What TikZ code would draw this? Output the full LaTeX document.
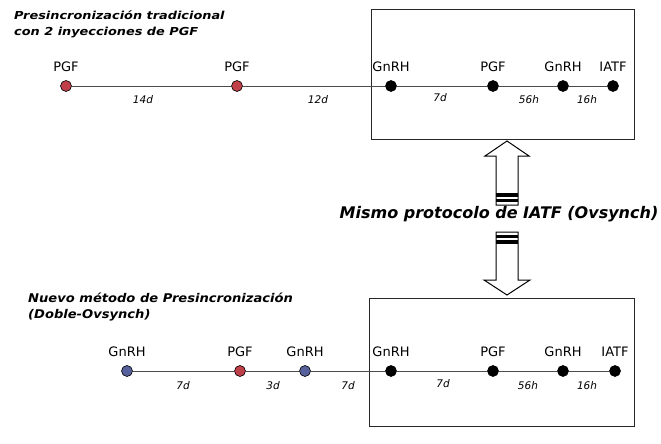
\documentclass[tikz,border=0pt]{standalone}
\usepackage{fontspec}
\setmainfont{DejaVu Sans}
\newfontfamily\widetopfont[FakeStretch=1.17]{DejaVu Sans}
\newfontfamily\widebotfont[FakeStretch=1.09]{DejaVu Sans}
\definecolor{pgfred}{HTML}{C0404A}
\definecolor{gnblue}{HTML}{56609A}
\begin{document}
\begin{tikzpicture}[x=1pt,y=-1pt,
  dot/.style={circle,draw=black,line width=0.6pt,inner sep=0pt,minimum size=11pt},
  lbl/.style={font=\fontsize{13}{14}\selectfont,inner sep=0pt,label distance=8.5pt},
  ivl/.style={font=\fontsize{10.5}{11}\selectfont\itshape,inner sep=0pt},
  ttl/.style={align=left,anchor=north west,inner sep=0pt},
  tl/.style={draw=black!70,line width=0.7pt},
  boxst/.style={draw=black!85,line width=1pt},
  arrowst/.style={draw=black,line width=1pt,fill=white}]
\useasboundingbox[fill=white] (0,0) rectangle (661,444);
% boxes
\draw[boxst] (371,10) rectangle (634,139);
\draw[boxst] (369,298) rectangle (634,426);
% titles
\node[ttl,font=\widetopfont\fontsize{11}{16}\selectfont\bfseries\itshape] (t1) at (14,10.5) {Presincronización tradicional\\con 2 inyecciones de PGF};
\node[ttl,font=\widebotfont\fontsize{12}{16}\selectfont\bfseries\itshape] (t2) at (28,292.5) {Nuevo método de Presincronización\\(Doble-Ovsynch)};
% top timeline
\node[dot,fill=pgfred,label={[lbl]above:PGF}] (a1) at (66,86) {};
\node[dot,fill=pgfred,label={[lbl]above:PGF}] (a2) at (237,86) {};
\node[dot,fill=black,label={[lbl]above:GnRH}] (a3) at (391,86) {};
\node[dot,fill=black,label={[lbl]above:PGF}] (a4) at (493,86) {};
\node[dot,fill=black,label={[lbl]above:GnRH}] (a5) at (563,86) {};
\node[dot,fill=black,label={[lbl]above:IATF}] (a6) at (613,86) {};
\draw[tl] (a1) -- (a2); \draw[tl] (a2) -- (a3); \draw[tl] (a3) -- (a4);
\draw[tl] (a4) -- (a5); \draw[tl] (a5) -- (a6);
\node[ivl] (i1) at (143,100) {14d};
\node[ivl] (i2) at (318,100) {12d};
\node[ivl] (i3) at (440,98) {7d};
\node[ivl] (i4) at (529,100) {56h};
\node[ivl] (i5) at (587,100) {16h};
% bottom timeline
\node[dot,fill=gnblue,label={[lbl]above:GnRH}] (b1) at (127,371) {};
\node[dot,fill=pgfred,label={[lbl]above:PGF}] (b2) at (240,371) {};
\node[dot,fill=gnblue,label={[lbl]above:GnRH}] (b3) at (305,371) {};
\node[dot,fill=black,label={[lbl]above:GnRH}] (b4) at (391,371) {};
\node[dot,fill=black,label={[lbl]above:PGF}] (b5) at (493,371) {};
\node[dot,fill=black,label={[lbl]above:GnRH}] (b6) at (563,371) {};
\node[dot,fill=black,label={[lbl]above:IATF}] (b7) at (615,371) {};
\draw[tl] (b1) -- (b2); \draw[tl] (b2) -- (b3); \draw[tl] (b3) -- (b4);
\draw[tl] (b4) -- (b5); \draw[tl] (b5) -- (b6); \draw[tl] (b6) -- (b7);
\node[ivl] (j1) at (183,386) {7d};
\node[ivl] (j2) at (273,386) {3d};
\node[ivl] (j3) at (348,386) {7d};
\node[ivl] (j4) at (443,384) {7d};
\node[ivl] (j5) at (528,386) {56h};
\node[ivl] (j6) at (587,386) {16h};
% middle arrows
\draw[arrowst] (507,141) -- (529,156) -- (518,156) -- (518,205) -- (496,205) -- (496,156) -- (485,156) -- cycle;
\fill[black] (496,193) rectangle (518,196.5);
\fill[black] (496,199) rectangle (518,201.5);
\draw[arrowst] (496,232) -- (518,232) -- (518,280) -- (530,280) -- (507,295) -- (484,280) -- (496,280) -- cycle;
\fill[black] (496,235) rectangle (518,237.5);
\fill[black] (496,240) rectangle (518,243.5);
\node[font=\fontsize{16}{18}\selectfont\bfseries\itshape,inner sep=0pt] (mid) at (499,214) {Mismo protocolo de IATF (Ovsynch)};
\end{tikzpicture}
\end{document}
